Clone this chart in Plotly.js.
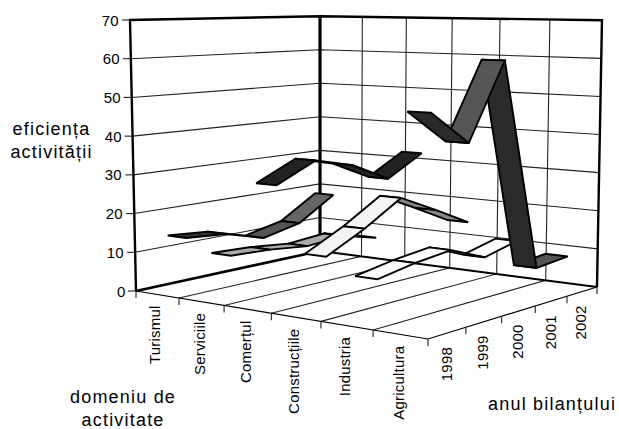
<!DOCTYPE html>
<html><head><meta charset="utf-8">
<script src="https://cdn.plot.ly/plotly-3.0.1.min.js"></script>
<style>html,body{margin:0;padding:0;background:#fff}#c{width:619px;height:429px}</style>
</head><body><div id="c"></div>
<script>
// ---- data ----
const categories = ['Turismul','Serviciile','Comerțul','Construcțiile','Industria','Agricultura'];
const years = ['1998','1999','2000','2001','2002'];
const turismul     = [13.8, 12.9, 9.9, 12.1, 18.4];
const serviciile   = [10.8, 10.3, 9.2, 10.0, 7.5];
const comertul     = [29.7, 34.5, 31.9, 26.9, 32.5];
const constructiile= [13.7, 18.6, 24.6, 19.8, 14.7];
const industria    = [10.0, 11.7, 12.8, 8.9, 11.1];
const agricultura  = [49.8, 41.7, 60.7, 7.8, 8.6];
const zTicks = [0,10,20,30,40,50,60,70];
// ---- styles ----
const shadeTurismul = ['#333333','#333333','#555555','#666666'];
const shadeServiciile = ['#aaaaaa','#aaaaaa','#aaaaaa','#333333'];
const shadeComertul = ['#222222','#222222','#222222','#222222'];
const shadeConstructiile = ['#f4f4f4','#f4f4f4','#888888','#888888'];
const shadeIndustria = ['#fbfbfb','#fbfbfb','#fbfbfb','#fbfbfb'];
const shadeAgricultura = ['#2a2a2a','#555555','#2a2a2a','#555555'];
const seriesValues = [turismul,serviciile,comertul,constructiile,industria,agricultura];
const seriesShades = [shadeTurismul,shadeServiciile,shadeComertul,shadeConstructiile,shadeIndustria,shadeAgricultura];
const zMax = 70, halfRibbon = 0.036;

// oblique camera: s along category axis, t along year axis, z value
function cam(s,t,z){
  const w = 1 - 0.1359*s + 0.1371*t;
  const fx = (233.8*s + 227.9*t + 136)/w;
  const fy = (1.9*s - 5.6*t + 291)/w;
  const q = z/zMax;
  return [fx + q*(-6 + 5*s + 6*t), fy - q*(271 - 4*t)/w];
}
function poly(points){ return {x:points.map(p=>p[0]), y:points.map(p=>p[1])}; }
const traces = [];
function line(points,width,color){
  const p = poly(points);
  traces.push({type:'scatter',mode:'lines',x:p.x,y:p.y,hoverinfo:'skip',showlegend:false,
    line:{color:color||'#000',width:width}});
}
// grid on walls
zTicks.slice(1,-1).forEach(z=>{
  line([cam(0,0,z),cam(0,1,z),cam(1,1,z)],1.1,'#222');
});
categories.forEach((c,i)=>{ if(i>0){
  const s=i/categories.length;
  line([cam(s,0,0),cam(s,1,0),cam(s,1,zMax)],1.1,'#222');
}});
// floor outline and ticks
line([cam(0,0,0),cam(1,0,0),cam(1,1,0)],1.2);
// wall outline
line([cam(0,0,0),cam(0,0,zMax),cam(0,1,zMax),cam(1,1,zMax),cam(1,1,0)],2.4);
line([cam(0,1,0),cam(0,1,zMax)],3.2);
line([cam(0,0,0),cam(0,1,0)],2.6);
line([cam(0,1,0),cam(1,1,0)],2);
// ticks
zTicks.forEach(z=>{const p=cam(0,0,z); line([[p[0]-8,p[1]],p],1.1,'#222');});
for(let i=0;i<=categories.length;i++){const p=cam(i/categories.length,0,0); line([p,[p[0],p[1]+7]],1.1,'#222');}
for(let i=1;i<=years.length;i++){const p=cam(1,i/years.length,0); line([p,[p[0],p[1]+7]],1.1,'#222');}
// ribbons, back to front
seriesValues.forEach((vals,c)=>{
  const s=(c+0.5)/categories.length;
  for(let i=vals.length-2;i>=0;i--){
    const t0=(i+0.5)/years.length,t1=(i+1.5)/years.length;
    const p=poly([cam(s-halfRibbon,t0,vals[i]),cam(s+halfRibbon,t0,vals[i]),
                  cam(s+halfRibbon,t1,vals[i+1]),cam(s-halfRibbon,t1,vals[i+1]),cam(s-halfRibbon,t0,vals[i])]);
    traces.push({type:'scatter',mode:'lines',x:p.x,y:p.y,fill:'toself',fillcolor:seriesShades[c][i],
      hoverinfo:'skip',showlegend:false,line:{color:'#000',width:1.9}});
  }
});
// text
const FONT='"Liberation Sans", Arial, sans-serif';
const ann=[];
zTicks.forEach(z=>{const p=cam(0,0,z);
  ann.push({x:p[0]-10,y:p[1],text:String(z),xanchor:'right',yanchor:'middle'});});
categories.forEach((c,i)=>{const p=cam((i+0.5)/categories.length,0,0);
  ann.push({x:p[0]-2,y:p[1]+11,text:c,textangle:-90,xanchor:'center',yanchor:'top'});});
years.forEach((c,i)=>{const p=cam(1,(i+0.5)/years.length,0);
  ann.push({x:p[0]-1.5,y:p[1]+13.5,text:c,textangle:-90,xanchor:'center',yanchor:'top'});});
const annotations=ann.map(a=>Object.assign({xref:'x',yref:'y',showarrow:false,borderpad:0,
  font:{family:FONT,size:15,color:'#000'}},a));
const titles=[['eficiența<br>activității',51,140],['domeniu de<br>activitate',123,408],['anul bilanțului',552,404]];
titles.forEach(t=>annotations.push({xref:'x',yref:'y',x:t[1],y:t[2],text:t[0],showarrow:false,borderpad:0,
  xanchor:'center',yanchor:'middle',font:{family:FONT,size:18,color:'#000'}}));

const ax={range:[0,619],visible:false,fixedrange:true};
Plotly.newPlot('c',traces,{width:619,height:429,margin:{l:0,r:0,t:0,b:0},
  paper_bgcolor:'#fff',plot_bgcolor:'#fff',showlegend:false,
  xaxis:ax,yaxis:{range:[429,0],visible:false,fixedrange:true},annotations:annotations},
  {staticPlot:true,displayModeBar:false}).then(()=>{
    document.querySelectorAll('.annotation-text').forEach(n=>{
      const big=/efic|bilan|domen/.test(n.textContent);
      n.style.letterSpacing=big?'1.2px':'0.2px';
    });
  });
</script></body></html>
